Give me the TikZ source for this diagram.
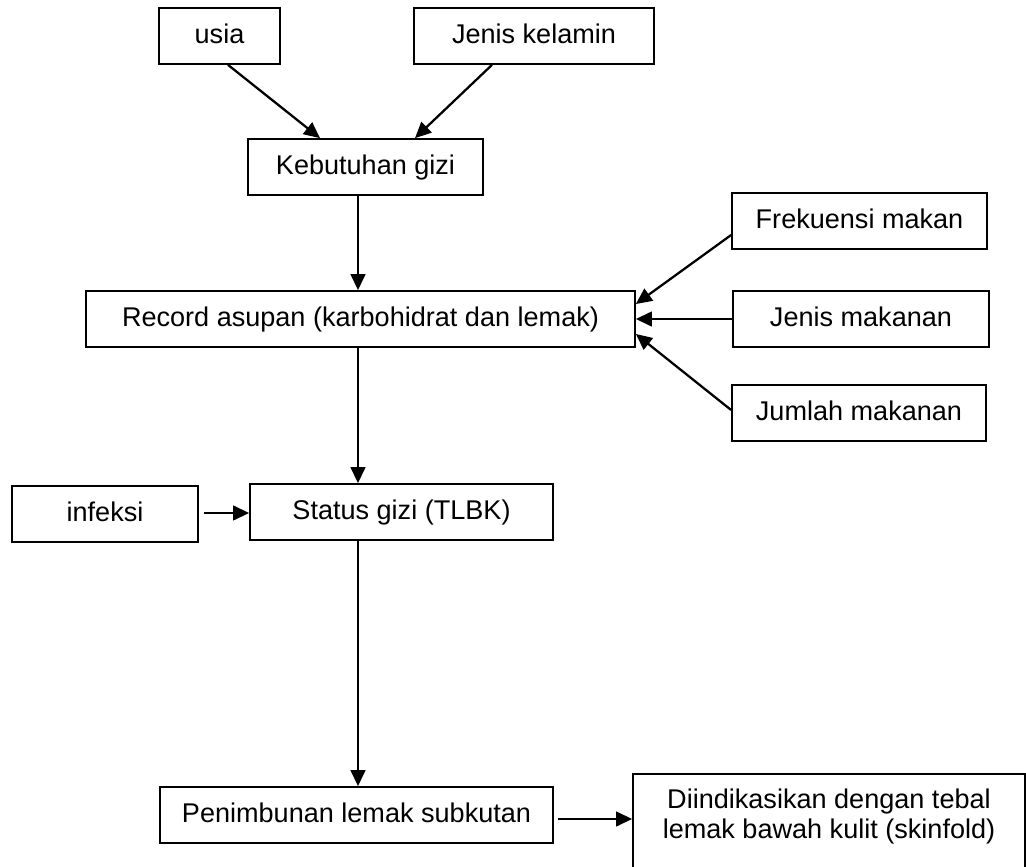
\documentclass[tikz,border=0pt]{standalone}
\usepackage{fontspec}
\setmainfont{Liberation Sans}
\usetikzlibrary{arrows.meta,calc}
\begin{document}
\begin{tikzpicture}[x=0.75pt,y=-0.75pt,
  box/.style={draw=black,line width=1.3pt,rectangle,inner sep=0pt,
    font=\fontsize{20.3pt}{22.5pt}\selectfont,minimum height=42pt,
    text height=15pt,text depth=4.2pt},
  plain/.style={inner sep=0pt,font=\fontsize{20.3pt}{22.5pt}\selectfont,align=center},
  arr/.style={line width=1.7pt,-{Triangle[length=12pt,width=11pt]}}]
\useasboundingbox (0,0) rectangle (1026,867);
% nodes
\node[box,minimum width=90.75pt]  (usia) at (219.5,36)  {usia};
\node[box,minimum width=180pt]    (jk)   at (534,36)    {Jenis kelamin};
\node[box,minimum width=176.25pt] (kb)   at (365.5,167) {Kebutuhan gizi};
\node[box,minimum width=411.75pt] (rec)  at (360.5,319) {Record asupan (karbohidrat dan lemak)};
\node[box,minimum width=191.25pt] (fr)   at (859.5,221) {Frekuensi makan};
\node[box,minimum width=192pt]    (jm)   at (861,319)   {Jenis makanan};
\node[box,minimum width=190.5pt]  (ju)   at (859,413)   {Jumlah makanan};
\node[box,minimum width=139.5pt]  (inf)  at (105,514)   {infeksi};
\node[box,minimum width=227.25pt] (st)   at (401.5,512) {Status gizi (TLBK)};
\node[box,minimum width=294.75pt] (pen)  at (356.5,815) {Penimbunan lemak subkutan};
\node[draw=black,line width=1.3pt,rectangle,inner sep=0pt,anchor=north,
      minimum width=294pt,minimum height=82pt] (dind) at (829,773) {};
\node[plain,anchor=north] (dindtext) at (829,788.5)
      {Diindikasikan dengan tebal\\lemak bawah kulit (skinfold)};
% connectors
\draw[arr] ($(usia.south)+(8.5,0)$) -- ($(kb.north)+(-45.5,0)$);
\draw[arr] ($(jk.south)+(-42,0)$) -- ($(kb.north)+(49.5,0)$);
\draw[arr] ($(kb.south)+(-7.5,0)$) coordinate (k1) -- (k1 |- rec.north);
\draw[arr] ($(fr.west)+(0,14)$) -- ($(rec.east)+(0,-15)$);
\draw[arr] (jm.west) -- (rec.east);
\draw[arr] ($(ju.west)+(0,-3)$) -- ($(rec.east)+(0,15)$);
\draw[arr] ($(rec.south)+(-2.5,0)$) coordinate (r1) -- (r1 |- st.north);
\draw[arr] ($(inf.east)+(5,-1)$) coordinate (i1) -- (i1 -| st.west);
\draw[arr] ($(st.south)+(-43.5,0)$) coordinate (s1) -- (s1 |- pen.north);
\draw[arr] ($(pen.east)+(4,4)$) coordinate (p1) -- (p1 -| dind.west);
\end{tikzpicture}
\end{document}
